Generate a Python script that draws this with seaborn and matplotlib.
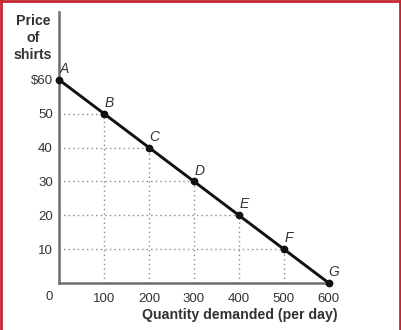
import matplotlib
matplotlib.use("Agg")
import matplotlib.pyplot as plt
from matplotlib.lines import Line2D
import seaborn as sns
import pandas as pd

# Demand schedule for shirts
quantity = [0, 100, 200, 300, 400, 500, 600]
price = [60, 50, 40, 30, 20, 10, 0]
point_labels = ["A", "B", "C", "D", "E", "F", "G"]
x_ticks = [100, 200, 300, 400, 500, 600]
y_ticks = [10, 20, 30, 40, 50, 60]
y_tick_labels = ["10", "20", "30", "40", "50", "$60"]

sns.set_style("white")
plt.rcParams["font.family"] = ["Liberation Sans", "DejaVu Sans"]

df = pd.DataFrame({"quantity": quantity, "price": price})

fig = plt.figure(figsize=(4.02, 3.30), dpi=100)
ax = fig.add_axes([59 / 402, 47 / 330, 272 / 402, 271 / 330])

text_col = "#333333"
dot_col = "#8a8a8a"

# dotted guide lines from each point to the axes
for q, p in zip(quantity, price):
    if q > 0 and p > 0:
        ax.plot([0, q], [p, p], color=dot_col, lw=1.0, ls=(0, (1, 2.3)), zorder=1)
        ax.plot([q, q], [0, p], color=dot_col, lw=1.0, ls=(0, (1, 2.3)), zorder=1)

sns.lineplot(data=df, x="quantity", y="price", ax=ax, color="#111111",
             linewidth=2.1, marker="o", markersize=5.6, markeredgewidth=0,
             zorder=3, clip_on=False)

for q, p, lab in zip(quantity, price, point_labels):
    ax.annotate(lab, (q, p), xytext=(3.8, 7.8), textcoords="offset points",
                ha="center", va="center", fontsize=10, fontstyle="italic",
                color=text_col)

ax.set_xlim(0, 605)
ax.set_ylim(0, 80)
ax.set_xticks(x_ticks)
ax.set_xticklabels([str(v) for v in x_ticks])
ax.set_yticks(y_ticks)
ax.set_yticklabels(y_tick_labels)
ax.tick_params(axis="both", length=0, labelsize=9.5, labelcolor=text_col)
ax.tick_params(axis="x", pad=7)
ax.tick_params(axis="y", pad=4.5)
ax.set_xlabel("")
ax.set_ylabel("")

for side in ["top", "right"]:
    ax.spines[side].set_visible(False)
for side in ["left", "bottom"]:
    ax.spines[side].set_color("#6e6e6e")
    ax.spines[side].set_linewidth(1.8)

# origin label
fig.text(53 / 402, 1 - 297 / 330, "0", ha="right", va="center",
         fontsize=9.5, color=text_col)

# axis titles
fig.text(33 / 402, 1 - 38 / 330, "Price\nof\nshirts", ha="center", va="center",
         fontsize=10.2, fontweight="bold", color=text_col, linespacing=1.25)
fig.text(338 / 402, 1 - 315 / 330, "Quantity demanded (per day)", ha="right",
         va="center", fontsize=10.2, fontweight="bold", color=text_col)

# frame around the figure
red = "#c4262e"
fig.add_artist(Line2D([0.002, 0.002], [0, 1], transform=fig.transFigure, color=red, lw=2))
fig.add_artist(Line2D([0, 1], [0.997, 0.997], transform=fig.transFigure, color=red, lw=2))
fig.add_artist(Line2D([400.5 / 402, 400.5 / 402], [0, 1], transform=fig.transFigure, color=red, lw=2))

fig.savefig("out.png", dpi=100)
